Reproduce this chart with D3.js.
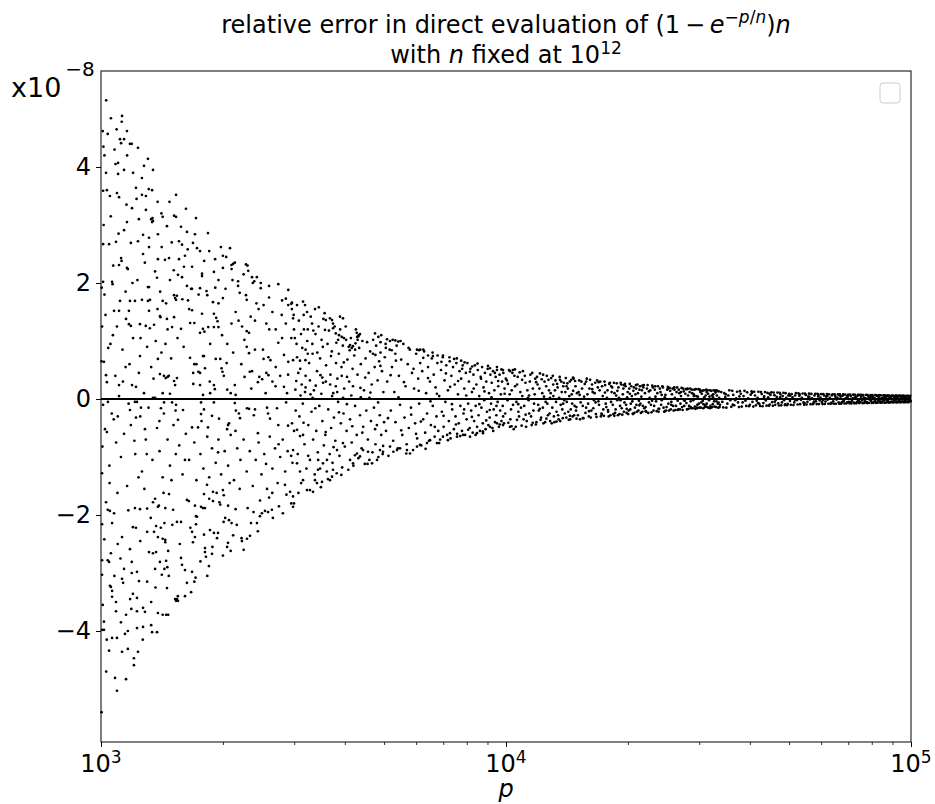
<!DOCTYPE html>
<html>
<head>
<meta charset="utf-8">
<script src="https://cdn.jsdelivr.net/npm/d3@7"></script>
<style>
  body { margin: 0; background: #fff; }
  text { font-family: "DejaVu Sans", sans-serif; fill: #000; }
</style>
</head>
<body>
<div id="chart"></div>
<script>
// Plot size
var svgWidth = 935;
var svgHeight = 804;

var margin = { top: 71, right: 24, bottom: 62, left: 101 };
var plotRight = svgWidth - margin.right;
var plotBottom = svgHeight - margin.bottom;

// axis limits (y values in units of 1e-8)
var xDomain = [1e3, 1e5];
var yDomain = [-5.914, 5.655];
var yTicks = [-4, -2, 0, 2, 4];
var xMajorTicks = [1e3, 1e4, 1e5];
var xTickExp = ["3", "4", "5"];
var xMinorTicks = [2e3, 3e3, 4e3, 5e3, 6e3, 7e3, 8e3, 9e3, 2e4, 3e4, 4e4, 5e4, 6e4, 7e4, 8e4, 9e4];

// points [p, relative error x1e-8]
var ptsNear1e3 = [
  [1030,5.15],[1058,4.84],[1039,4.57],[1093,4.65],[1127,4.88],[1125,4.78],[1159,4.62],[1114,4.48],[1140,4.48],[1121,4.41],
  [1179,4.40],[1191,4.40],[1234,4.33],[1306,4.14],[1277,4.02],[1344,3.95],[1262,3.81],[1140,3.95],[1102,4.07],[1102,3.88],
  [1029,3.90],[1220,3.64],[1337,3.60],[1262,3.52],[1291,3.50],[1012,3.59],[1034,3.60],[1052,3.50],[1095,3.55],[1108,3.48],
  [1532,3.52],[1193,3.29],[1291,3.26],[1330,3.10],[1337,3.05],[1344,3.07],[1340,3.12],[1420,3.14],[1515,3.16],[1532,3.14],
  [1159,3.05],[1140,2.91],[1455,2.98],[1382,2.84],[1270,2.83],[1012,2.67],[1047,2.67],[1089,2.71],[1185,2.69],[1234,2.72],
  [1314,2.78],[1270,2.50],[1314,2.62],[1382,2.41],[1439,2.40],[1472,2.43],[1121,2.43],[1124,2.38],[1108,2.31],[1159,2.26],
  [1165,2.24],[1480,2.05],[1375,2.09],[1306,1.93],[1314,1.93],[1012,2.02],[1065,2.02],[1068,1.98],[1179,1.69],[1114,1.69],
  [1213,1.69],[1262,1.71],[1306,1.69],[1321,1.71],[1420,1.69],[1077,1.52],[1108,1.52],[1172,1.52],[1314,1.52],[1153,1.38],
  [1172,1.29],[1185,1.26],[1248,1.29],[1290,1.26],[1320,1.22],[1352,1.28],[1398,1.43],[1402,1.41],[1455,1.38],[1515,1.41],
  [1448,1.65],[1515,1.79],[1524,1.74],[1532,1.71],[1540,1.78],[1498,1.24],
  [1017,0.64],[1029,0.41],[1034,0.29],[1108,0.24],[1108,0.05],[1193,0.24],[1220,0.21],[1277,0.10],[1344,0.02],[1360,0.02],
  [1248,0.74],[1382,0.69],[1398,0.43],[1430,0.40],[1460,0.38],[1445,0.36],[1470,0.40],[1540,0.36],[1420,0.10],[1480,0.09],
  [1515,0.31],[1524,0.24],[1003,0.65],[1006,1.25],[1020,1.80],[1055,0.95],[1070,1.10],[1085,0.40],[1130,0.85],[1150,0.55],
  [1200,1.05],[1240,0.45],[1300,0.90],[1330,0.55],[1365,1.00],[1410,0.80],[1490,0.70],[1010,4.62],[1020,4.20],[1015,3.00],
  [1080,4.30],[1160,4.20],[1200,3.90],[1240,3.10],[1380,3.40],[1410,3.20],[1495,2.70],[1360,2.20],[1230,2.05],[1150,1.85],
  [1095,1.25],[1400,1.85],[1460,1.20],
  [1006,-1.28],[1006,-2.16],[1006,-2.78],[1006,-3.03],[1006,-3.98],[1003,-5.40],[1017,-3.84],[1017,-3.98],[1023,-0.52],[1034,-0.57],
  [1029,-1.78],[1039,-1.91],[1052,-1.93],[1077,-1.97],[1065,-2.14],[1047,-2.81],[1058,-2.66],[1039,-2.78],[1052,-3.22],[1058,-3.24],
  [1065,-3.31],[1065,-3.41],[1089,-3.50],[1089,-3.66],[1065,-4.12],[1095,-4.12],[1047,-4.34],[1083,-4.81],[1095,-5.03],[1153,-4.83],
  [1165,-4.31],[1206,-4.47],[1206,-4.59],[1234,-4.36],[1127,-4.36],[1165,-4.00],[1153,-3.72],[1127,-2.38],[1127,-3.10],[1134,-3.17],
  [1140,-2.93],[1179,-2.59],[1191,-2.81],[1191,-3.00],[1227,-2.98],[1241,-3.14],[1199,-3.36],[1227,-3.43],[1199,-2.21],[1220,-2.22],
  [1227,-3.66],[1270,-3.60],[1284,-3.67],[1227,-3.95],[1270,-3.93],[1330,-3.90],[1337,-4.02],[1375,-4.02],[1330,-3.50],[1382,-3.69],
  [1420,-3.72],[1448,-3.72],[1465,-3.72],[1455,-3.26],[1524,-3.45],[1532,-3.48],[1548,-3.40],[1314,-2.64],[1344,-2.66],[1368,-2.64],
  [1360,-2.93],[1413,-3.03],[1434,-2.93],[1398,-2.81],[1448,-2.79],[1465,-2.62],[1420,-2.41],[1441,-2.47],[1382,-2.38],[1352,-2.29],
  [1300,-2.29],[1405,-2.22],[1368,-2.19],[1434,-2.14],[1500,-2.17],[1441,-2.43],[1213,-1.88],[1248,-1.90],[1300,-1.89],[1344,-1.78],
  [1360,-1.72],[1382,-1.86],[1390,-1.84],[1441,-1.88],[1507,-1.91],[1472,-1.64],[1540,-2.12],
  [1012,-0.10],[1040,-0.05],[1075,-0.35],[1090,-0.75],[1100,-0.30],[1120,-1.00],[1140,-0.60],[1170,-0.08],[1185,-0.45],[1215,-0.95],
  [1250,-0.30],[1262,-1.25],[1290,-0.70],[1310,-0.15],[1340,-1.05],[1375,-0.50],[1395,-0.90],[1430,-0.25],[1460,-0.70],[1480,-1.15],
  [1510,-0.45],[1530,-0.95],[1050,-1.45],[1160,-1.50],[1280,-1.55],[1420,-1.35],[1100,-2.50],[1250,-2.45],[1010,-3.55],[1030,-4.70],
  [1120,-3.85],[1180,-3.45],[1300,-3.15],[1470,-3.05],
  [1179,-0.19],[1213,-0.05],[1227,-0.05],[1255,-0.15],[1220,-0.32],[1284,-0.52],[1406,-0.16],[1431,-0.06],[1498,-0.06],[1532,-0.10],
  [1549,-0.36]
];

var ptsExtraLow = [
  [1004,1.92],[1008,-0.82],[1014,4.35],[1019,-2.42],[1026,1.45],[1033,-4.15],[1042,0.88],[1049,-1.15],[1057,3.15],[1063,-0.25],
  [1072,2.30],[1079,-3.05],[1086,4.05],[1098,-1.62],[1105,2.85],[1117,-2.75],[1133,0.30],[1146,-4.05],[1156,3.35],[1168,-1.92],
  [1176,0.60],[1188,-3.62],[1196,2.00],[1209,-0.72],[1224,3.45],[1238,-1.35],[1252,1.05],[1268,-4.15],[1283,2.35],[1297,-0.95],
  [1312,3.62],[1327,-2.05],[1348,0.35],[1363,-3.25],[1379,1.55],[1394,-0.38],[1412,2.62],[1427,-1.62],[1443,0.95],[1458,-2.90],
  [1476,3.40],[1493,-1.40],[1512,2.22],[1528,-0.20],[1545,1.05],[1565,-2.50],[1588,1.72],[1612,-1.05],[1637,2.58],[1662,-2.22],
  [1689,0.45],[1712,-3.08],[1742,1.80],[1771,-0.38],[1798,2.38],[1827,-1.48],[1856,0.30],[1884,-2.55],[1915,1.92],[1946,-0.92],
  [1977,2.62],[2008,-2.12],[2043,0.62],[2078,-1.45],[2112,2.05],[2148,-0.55],[2186,1.35],[2224,-2.40],[2262,0.38],[2302,-1.88],
  [2342,1.42],[2384,-0.28],[2426,2.10],[2468,-2.02],[2512,0.85],[2556,-1.12],[2603,1.20],[2648,-1.62],[2697,0.22],[2745,-0.78],
  [2794,1.45],[2846,-1.48],[2897,0.42],[2948,-0.98]
];

var ptsTo3e3 = [
  [1576,2.97],[1630,2.88],[1706,2.84],[1837,2.86],[1621,3.28],[1716,3.12],[1558,2.72],[1585,2.66],[1687,2.69],[2082,2.60],
  [1726,2.60],[1756,2.55],[1612,2.47],[1558,2.41],[1603,2.28],[1678,2.28],[2000,2.47],[2038,2.45],[1913,2.41],[2120,2.33],
  [2100,2.31],[2140,2.35],[2280,2.32],[2300,2.30],[2000,2.26],[2101,2.24],[1900,2.19],[1776,2.16],[1776,2.12],[1585,2.10],
  [1549,2.14],[1630,1.95],[1669,1.90],[1678,1.90],[1756,1.91],[2310,2.21],[2360,2.10],[2390,2.03],[2480,1.91],[2480,2.00],
  [2370,2.00],[2740,1.98],[2900,1.88],[1576,1.21],[1650,1.55],[1678,1.53],[1660,1.31],[1700,1.31],[1776,1.47],[1785,1.21],
  [1822,1.86],[1830,1.79],[1890,1.67],[1900,1.47],[1950,1.65],[2000,1.74],[1840,1.24],[1900,1.24],[1950,1.24],[1925,1.40],
  [1940,1.34],[2180,2.03],[2180,1.95],[2200,1.83],[2280,1.79],[2290,1.71],[2290,1.17],[1800,1.16],[1756,1.14],
  [1659,0.71],[1700,0.60],[1720,0.60],[1690,0.26],[1756,0.24],[1740,0.47],[1756,0.45],[1786,0.74],[1796,0.74],[1806,0.53],
  [1786,0.07],[1860,0.10],[1900,0.24],[1910,0.17],[1920,0.69],[1970,0.69],[1985,0.53],[1995,0.47],[2010,0.40],[2050,0.16],
  [2090,0.10],[2150,0.07],[2140,0.24],[2330,0.47],[2360,0.48],[2460,0.38],[2440,0.29],[2500,0.34],[2560,0.45],[2590,0.41],
  [2320,0.79],[2290,0.90],[2260,1.02],[2320,1.14],[2520,0.69],[2590,0.72],[2620,0.67],[2830,0.21],[2880,0.10],[2740,0.97],
  [2800,1.05],[2830,0.76],[2900,0.64],[2980,0.67],[2800,1.70],[2860,1.73],[2950,1.64],[2960,1.55],[2990,1.45],[2900,1.62],
  [2450,1.55],[2520,1.62],[2600,1.75],[2650,1.50],[2560,1.30],[2700,1.20],[2400,1.35],[2150,1.50],[2100,1.30],[2050,0.95],
  [2220,0.60],[2400,0.85],[2650,0.30],[2700,0.55],[1600,0.90],[1640,1.70],[1860,0.95],[1990,1.10],[2230,1.25],[2600,1.95],
  [2420,1.65],[2250,2.15],[1850,2.55],[1950,2.05],[2030,1.90],[2860,1.30],[2950,1.05],[2770,0.40],[2550,0.10],[2350,0.18],
  [2120,0.80],
  [1612,-2.95],[1678,-2.98],[1576,-2.74],[1585,-2.86],[1540,-3.45],[1549,-3.48],[1612,-3.40],[1669,-3.33],[1630,-3.17],[1576,-2.12],
  [1630,-1.74],[1648,-1.76],[1678,-2.29],[1716,-2.02],[1726,-2.03],[1766,-1.86],[1706,-1.84],[1786,-1.88],[1806,-1.88],[1716,-2.16],
  [1706,-2.38],[1687,-2.47],[1796,-2.34],[1806,-2.57],[1806,-2.64],[1816,-2.72],[1847,-2.88],[1880,-2.67],[1858,-2.26],[1900,-2.31],
  [1945,-2.31],[1934,-2.40],[2026,-2.05],[2070,-2.09],[2101,-2.14],[2164,-2.17],[2090,-2.62],[2059,-2.48],[2048,-2.55],[2228,-2.45],
  [2293,-2.41],[2333,-2.36],[2346,-2.14],[2427,-2.14],[2440,-2.28],[2497,-1.97],[2540,-1.93],[2585,-1.95],[2642,-1.91],[2657,-2.05],
  [2812,-1.97],[1796,-1.64],[1850,-1.72],[1890,-1.76],[1960,-1.78],[1970,-1.82],[2060,-1.84],[2010,-1.66],[1930,-1.62],[1890,-1.60],
  [2000,-1.57],
  [1560,-0.80],[1590,-1.30],[1620,-0.60],[1650,-1.05],[1700,-0.75],[1720,-1.40],[1760,-0.95],[1790,-1.20],[1830,-0.65],[1850,-1.35],
  [1880,-0.85],[1920,-1.10],[1950,-0.70],[1980,-1.30],[2020,-0.90],[2060,-1.15],[2090,-0.62],[2130,-1.40],[2170,-0.85],[2210,-1.05],
  [2250,-0.70],[2290,-1.25],[2330,-0.90],[2370,-1.50],[2410,-1.05],[2450,-0.75],[2490,-1.30],[2530,-0.95],[2570,-1.55],[2610,-0.65],
  [2650,-1.20],[2690,-0.85],[2730,-1.45],[2770,-1.00],[2810,-0.70],[2850,-1.25],[2890,-0.90],[2930,-1.60],[2970,-1.10],[2470,-1.75],
  [2600,-1.70],[2750,-1.85],[2870,-1.65],[2380,-1.95],[2200,-1.55],[2120,-2.35],[2250,-2.60],[1830,-3.05],[1700,-3.15],[1760,-2.80],
  [2000,-2.70],[2150,-1.90],[2950,-1.80],
  [1594,-0.19],[1678,-0.49],[1736,-0.49],[1766,-0.06],[1796,-0.18],[1766,-0.26],[1837,-0.49],[1880,-0.29],[1900,-0.06],[1956,-0.34],
  [2059,-0.45],[2070,-0.42],[2048,-0.52],[2140,-0.07],[2153,-0.20],[2190,-0.25],[2204,-0.33],[2293,-0.16],[2320,-0.17],[2400,-0.18],
  [2440,-0.59],[2570,-0.15],[2585,-0.25],[2614,-0.34],[2720,-0.16],[2740,-0.45],[2865,-0.06],[2896,-0.46],[2997,-0.55]
];

var ptsTo1e4 = [
  [2962,1.66],[3048,1.62],[3154,1.68],[3190,1.62],[3226,1.50],[2980,1.39],[2996,1.20],[3170,1.20],[3240,1.20],[3320,1.30],
  [3376,1.55],[3450,1.58],[3590,1.36],[3676,1.39],[3719,1.36],[3740,1.30],[3891,1.42],[3958,1.39],[3573,1.19],[3740,1.22],
  [3800,1.13],[3870,1.10],[3930,1.07],[3980,1.05],[4030,1.02],[3850,1.02],[4280,1.14],[4330,1.10],[4360,1.12],[4320,1.08],
  [4290,1.07],[4120,0.93],[4190,0.91],[4240,0.85],[4160,0.88],[4090,0.90],[4250,0.96],[4749,1.13],[4840,1.07],[4920,1.10],
  [5083,1.03],[5171,1.00],[5250,1.02],[5330,1.01],[5420,0.99],[5490,1.00],[4760,0.76],[4900,0.80],[5050,0.88],[5220,0.84],
  [5330,0.78],[6029,0.85],[6100,0.84],[6140,0.85],[6250,0.85],[6420,0.75],[6600,0.74],[6780,0.75],[6990,0.75],[7250,0.72],
  [7560,0.70],[7750,0.66],[7900,0.63],[8250,0.56],[9130,0.53],[9500,0.55],[9830,0.50],[10230,0.48],[10400,0.50],
  [3048,0.72],[3100,0.66],[3200,0.85],[3240,0.78],[3330,0.78],[3420,0.80],[3530,0.90],[3070,0.45],[3130,0.25],[3200,0.20],
  [3280,0.32],[3390,0.23],[3520,0.37],[3590,0.30],[3680,0.25],[3800,0.22],[3930,0.40],[4050,0.38],[4190,0.22],[3020,0.16],
  [3110,0.06],[3190,0.12],[3330,0.02],[3500,0.09],[3720,0.05],[3830,0.12],[3960,0.02],[4150,0.06],[4380,0.03],[4600,0.02],
  [2962,-0.42],[3048,-0.53],[3100,-0.64],[3154,-0.62],[2980,-0.88],[3048,-1.11],[3100,-1.25],[3154,-1.40],[3226,-1.57],[3281,-1.57],
  [3338,-1.60],[3376,-1.40],[3434,-1.22],[3474,-1.20],[3533,-1.11],[3614,-1.05],[3676,-1.40],[3719,-1.34],[3740,-1.22],[3513,-1.43],
  [3414,-1.45],[2980,-1.68],[2980,-1.86],[2996,-1.80],[3826,-0.88],[3958,-0.76],[4120,-1.05],[4191,-1.11],[4286,-0.94],[4360,-0.99],
  [4436,-0.88],[4564,-0.91],[4669,-1.11],[4804,-1.05],[4885,-0.88],[4969,-0.91],[5171,-0.82],[5381,-0.88],[5473,-0.85],[5694,-0.88],
  [5794,-0.94],[6029,-0.82],[6132,-0.79],[6382,-0.76],[6492,-0.71],[6755,-0.76],[6989,-0.65],[7273,-0.59],[7568,-0.65],[7830,-0.62],
  [8149,-0.65],[8479,-0.59],[8775,-0.59],[9131,-0.48],[9502,-0.42],[9831,-0.45],[10230,-0.48],[10645,-0.36],
  [3010,1.05],[3025,-0.20],[3040,0.95],[3060,-0.95],[3080,1.35],[3090,-0.30],[3105,0.52],[3120,-1.45],[3140,0.88],[3150,-0.08],
  [3165,1.45],[3180,-0.78],[3200,0.40],[3215,-1.20],[3230,1.00],[3250,-0.45],[3265,0.62],[3280,-1.05],[3295,1.42],[3310,-0.22],
  [3325,0.95],[3340,-0.70],[3355,0.15],[3370,-1.30],[3385,1.12],[3400,-0.55],[3415,0.48],[3430,-0.92],[3445,1.25],[3460,-0.12],
  [3475,0.70],[3490,-1.52],[3505,1.02],[3520,-0.38],[3535,0.28],[3550,-0.80],[3565,1.48],[3580,-0.62],[3595,0.58],[3610,-1.25],
  [3625,0.95],[3640,-0.18],[3655,1.18],[3670,-0.95],[3685,0.42],[3700,-0.50],[3715,0.82],[3730,-1.10],[3745,0.10],[3760,-0.32],
  [3775,1.25],[3790,-0.72],[3805,0.62],[3820,-1.28],[3835,0.35],[3850,-0.05],[3865,0.78],[3880,-0.98],[3895,1.20],[3910,-0.42],
  [3925,0.55],[3940,-1.18],[3955,0.92],[3970,-0.25],[3985,0.18],[4000,-0.82],[4020,1.25],[4040,-0.55],[4060,0.68],[4080,-1.22],
  [4100,0.30],[4120,-0.35],[4140,1.05],[4160,-0.75],[4180,0.52],[4200,-1.15],[4220,0.75],[4240,-0.12],[4260,1.20],[4280,-0.62],
  [4300,0.42],[4320,-1.02],[4340,0.88],[4360,-0.28],[4380,0.60],[4400,-0.85],[4420,1.00],[4440,-0.48],[4460,0.15],[4480,-1.12],
  [4500,0.70],[4520,-0.20],[4540,0.98],[4560,-0.70],[4580,0.45],[4600,-1.05],[4620,0.82],[4640,-0.38],[4660,0.25],[4680,-0.92],
  [4700,1.02],[4720,-0.15],[4740,0.55],[4760,-0.78],[4780,0.92],[4800,-0.45],[4820,0.32],[4840,-1.00],[4860,0.65],[4880,-0.28],
  [4900,0.98],[4920,-0.62],[4940,0.48],[4960,-0.95],[4980,0.12],[5000,-0.40],
  [5020,0.72],[5055,-0.55],[5090,0.30],[5125,-0.98],[5160,0.85],[5195,-0.20],[5230,0.55],[5265,-0.72],[5300,0.12],[5335,-0.40],
  [5370,0.92],[5405,-0.85],[5440,0.40],[5475,-0.10],[5510,0.68],[5545,-0.62],[5580,0.95],[5615,-0.32],[5650,0.22],[5685,-0.78],
  [5720,0.60],[5755,-0.50],[5790,0.85],[5825,-0.15],[5860,0.45],[5895,-0.88],[5930,0.18],[5965,-0.42],[6000,0.78],[6035,-0.68],
  [6070,0.35],[6105,-0.08],[6140,0.62],[6175,-0.80],[6210,0.48],[6245,-0.35],[6280,0.82],[6315,-0.58],[6350,0.10],[6385,-0.25],
  [6420,0.55],[6455,-0.72],[6490,0.30],[6525,-0.45],[6560,0.70],[6595,-0.12],[6630,0.42],[6665,-0.65],[6700,0.20],[6735,-0.30],
  [6770,0.62],[6805,-0.55],[6840,0.05],[6875,-0.70],[6910,0.50],[6945,-0.22],[6980,0.72],[7015,-0.48],[7050,0.32],[7085,-0.05],
  [7120,0.58],[7155,-0.62],[7190,0.15],[7225,-0.38],[7260,0.65],[7295,-0.68],[7330,0.40],[7365,-0.18],[7400,0.55],[7435,-0.52],
  [7470,0.25],[7505,-0.30],[7540,0.62],[7575,-0.60],[7610,0.08],[7645,-0.42],[7680,0.48],[7715,-0.12],[7750,0.35],[7785,-0.55],
  [7820,0.58],[7855,-0.25],[7890,0.18],[7925,-0.62],[7960,0.45],[7995,-0.35],[8030,0.62],[8065,-0.08],[8100,0.30],[8135,-0.50],
  [8170,0.52],[8205,-0.20],[8240,0.12],[8275,-0.58],[8310,0.42],[8345,-0.38],[8380,0.58],[8415,-0.12],[8450,0.25],[8485,-0.48],
  [8520,0.50],[8555,-0.28],[8590,0.05],[8625,-0.55],[8660,0.38],[8695,-0.15],[8730,0.55],[8765,-0.42],[8800,0.20],[8835,-0.02],
  [8870,0.45],[8905,-0.52],[8940,0.30],[8975,-0.22],[9010,0.52],[9045,-0.45],[9080,0.10],[9115,-0.32],[9150,0.42],[9185,-0.08],
  [9220,0.28],[9255,-0.50],[9290,0.48],[9325,-0.18],[9360,0.15],[9395,-0.40],[9430,0.38],[9465,-0.28],[9500,0.50],[9535,-0.05],
  [9570,0.22],[9605,-0.48],[9640,0.42],[9675,-0.20],[9710,0.08],[9745,-0.38],[9780,0.30],[9815,-0.12],[9850,0.45],[9885,-0.42],
  [9920,0.18],[9955,-0.25],[9990,0.35]
];

var ptsExtraMid = [
  [3035,0.31],[3072,-1.62],[3118,1.12],[3163,-0.41],[3197,0.67],[3248,-0.98],[3291,0.08],[3344,1.18],[3382,-0.16],[3437,-1.05],
  [3482,0.41],[3541,1.38],[3588,-0.57],[3632,-1.38],[3697,0.74],[3752,-0.83],[3811,0.97],[3868,-0.23],[3921,-1.31],[3977,0.63],
  [4047,-0.09],[4112,0.84],[4173,-0.47],[4236,-0.97],[4302,1.02],[4371,0.19],[4417,-0.58],[4493,0.37],[4551,-1.12],[4627,0.11],
  [4693,0.78],[4751,-0.52],[4833,-0.06],[4897,0.57],[4972,-0.81],[5043,0.95],[5112,-0.33],[5189,0.41],[5271,-0.91],[5348,0.66],
  [5427,0.03],[5512,-0.54],[5597,0.29],[5672,-0.94],[5748,0.88],[5833,-0.27],[5912,0.52],[5997,-0.60],[6088,0.14],[6163,-0.39],
  [6247,0.71],[6331,-0.86],[6418,0.36],[6509,-0.04],[6588,0.80],[6671,-0.48],[6752,0.09],[6838,-0.76],[6927,0.64],[7013,-0.29],
  [7107,0.44],[7188,-0.71],[7279,0.21],[7352,-0.09],[7446,0.69],[7523,-0.44],[7618,0.31],[7707,-0.64],[7793,0.52],[7884,-0.18],
  [7977,0.06],[8066,-0.53],[8147,0.47],[8238,-0.31],[8322,0.18],[8411,-0.62],[8506,0.61],[8593,-0.09],[8677,0.35],[8768,-0.56],
  [8849,0.13],[8937,-0.37],[9028,0.57],[9118,-0.19],[9207,0.03],[9298,-0.55],[9386,0.45],[9471,-0.12],[9563,0.31],[9651,-0.44],
  [9744,0.51],[9838,-0.30],[9925,0.09]
];

var ptsTo3e4 = [
  [10050,0.32],[10130,-0.41],[10210,0.08],[10290,-0.18],[10370,0.45],[10450,-0.52],[10530,0.22],[10610,-0.05],[10690,0.38],[10770,-0.30],
  [10850,0.12],[10930,-0.46],[11010,0.48],[11090,-0.12],[11170,0.28],[11250,-0.38],[11330,0.02],[11410,-0.25],[11490,0.42],[11570,-0.45],
  [11650,0.18],[11730,-0.08],[11810,0.35],[11890,-0.40],[11970,0.25],[12050,-0.20],[12130,0.44],[12210,-0.32],[12290,0.10],[12370,-0.42],
  [12450,0.30],[12530,-0.05],[12610,0.40],[12690,-0.28],[12770,0.15],[12850,-0.38],[12930,0.36],[13010,-0.15],[13090,0.05],[13170,-0.40],
  [13250,0.32],[13330,-0.22],[13410,0.20],[13490,-0.35],[13570,0.38],[13650,-0.10],[13730,0.12],[13810,-0.33],[13890,0.28],[13970,-0.25],
  [14050,0.36],[14130,-0.05],[14210,0.18],[14290,-0.36],[14370,0.30],[14450,-0.18],[14530,0.08],[14610,-0.30],[14690,0.35],[14770,-0.12],
  [14850,0.22],[14930,-0.34],
  [10090,-0.02],[10170,0.50],[10250,-0.35],[10330,0.15],[10410,-0.10],[10490,0.40],[10570,-0.48],[10650,0.25],[10730,-0.22],[10810,0.46],
  [10890,-0.15],[10970,0.05],[11050,-0.35],[11130,0.40],[11210,-0.48],[11290,0.15],[11370,-0.02],[11450,0.30],[11530,-0.30],[11610,0.45],
  [11690,-0.20],[11770,0.08],[11850,-0.44],[11930,0.38],[12010,-0.10],[12090,0.18],[12170,-0.36],[12250,0.34],[12330,-0.15],[12410,0.04],
  [12490,-0.40],[12570,0.22],[12650,-0.08],[12730,0.33],[12810,-0.25],[12890,0.10],[12970,-0.42],[13050,0.40],[13130,-0.30],[13210,0.15],
  [13290,-0.05],[13370,0.26],[13450,-0.28],[13530,0.02],[13610,-0.38],[13690,0.30],[13770,-0.18],[13850,0.22],[13930,-0.02],[14010,0.12],
  [14090,-0.32],[14170,0.27],[14250,-0.22],[14330,0.05],[14410,-0.35],[14490,0.33],[14570,-0.08],[14650,0.14],[14730,-0.28],[14810,0.31],
  [14890,-0.20],[14970,0.10],
  [15050,-0.28],[15170,0.32],[15290,-0.06],[15410,0.18],[15530,-0.33],[15650,0.26],[15770,-0.15],[15890,0.08],[16010,-0.30],[16130,0.33],
  [16250,-0.20],[16370,0.12],[16490,-0.02],[16610,0.28],[16730,-0.31],[16850,0.20],[16970,-0.10],[17090,0.30],[17210,-0.25],[17330,0.05],
  [17450,-0.29],[17570,0.24],[17690,-0.14],[17810,0.15],[17930,-0.30],[18050,0.28],[18170,-0.05],[18290,0.20],[18410,-0.26],[18530,0.10],
  [18650,-0.18],[18770,0.27],[18890,-0.28],[19010,0.02],[19130,-0.12],[19250,0.25],[19370,-0.27],[19490,0.18],[19610,-0.06],[19730,0.22],
  [19850,-0.24],[19970,0.12],[20090,-0.20],[20210,0.26],[20330,-0.08],[20450,0.05],[20570,-0.25],[20690,0.20],[20810,-0.15],[20930,0.24],
  [21050,-0.22],[21170,0.10],[21290,-0.03],[21410,0.22],[21530,-0.24],[21650,0.15],[21770,-0.12],[21890,0.24],
  [15110,0.12],[15230,-0.35],[15350,0.30],[15470,-0.12],[15590,0.04],[15710,-0.24],[15830,0.35],[15950,-0.08],[16070,0.18],[16190,-0.32],
  [16310,0.25],[16430,-0.16],[16550,0.10],[16670,-0.26],[16790,0.32],[16910,-0.04],[17030,0.15],[17150,-0.30],[17270,0.22],[17390,-0.18],
  [17510,0.30],[17630,-0.08],[17750,0.02],[17870,-0.22],[17990,0.26],[18110,-0.28],[18230,0.12],[18350,-0.10],[18470,0.28],[18590,-0.24],
  [18710,0.06],[18830,-0.02],[18950,0.20],[19070,-0.26],[19190,0.28],[19310,-0.16],[19430,0.08],[19550,-0.22],[19670,0.26],[19790,-0.10],
  [19910,0.03],[20030,-0.26],[20150,0.18],[20270,-0.18],[20390,0.22],[20510,-0.04],[20630,0.14],[20750,-0.24],[20870,0.08],[20990,-0.10],
  [21110,0.25],[21230,-0.20],[21350,0.16],[21470,-0.08],[21590,0.04],[21710,-0.22],[21830,0.20],[21950,-0.16],
  [22030,0.10],[22200,-0.22],[22370,0.24],[22540,-0.06],[22710,0.15],[22880,-0.23],[23050,0.20],[23220,-0.12],[23390,0.04],[23560,-0.21],
  [23730,0.22],[23900,-0.17],[24070,0.12],[24240,-0.02],[24410,0.20],[24580,-0.22],[24750,0.07],[24920,-0.14],[25090,0.21],[25260,-0.20],
  [25430,0.14],[25600,-0.05],[25770,0.18],[25940,-0.20],[26110,0.02],[26280,-0.12],[26450,0.20],[26620,-0.18],[26790,0.10],[26960,-0.08],
  [27130,0.19],[27300,-0.19],[27470,0.13],[27640,-0.03],[27810,0.17],[27980,-0.18],[28150,0.06],[28320,-0.12],[28490,0.18],[28660,-0.16],
  [28830,0.10],[29000,-0.02],[29170,0.16],[29340,-0.17],[29510,0.05],[29680,-0.10],[29850,0.17],[30020,-0.15],[30190,0.12],[30360,-0.06],
  [30530,0.14],[30700,-0.16],[30870,0.03],[31040,-0.11],[31210,0.16],[31380,-0.14],[31550,0.09],[31720,-0.02],[31890,0.15],[32060,-0.15],
  [32230,0.06],[32400,-0.09],[32570,0.15],[32740,-0.13],[32910,0.11],[33080,-0.04],[33250,0.14],[33420,-0.15],[33590,0.02],[33760,-0.10],
  [22115,-0.14],[22285,0.18],[22455,-0.24],[22625,0.02],[22795,-0.10],[22965,0.23],[23135,-0.20],[23305,0.16],[23475,-0.04],[23645,0.10],
  [23815,-0.22],[23985,0.18],[24155,-0.10],[24325,0.22],[24495,-0.15],[24665,0.03],[24835,-0.20],[25005,0.16],[25175,-0.08],[25345,0.19],
  [25515,-0.18],[25685,0.08],[25855,-0.12],[26025,0.20],[26195,-0.19],[26365,0.12],[26535,-0.03],[26705,0.16],[26875,-0.18],[27045,0.05],
  [27215,-0.14],[27385,0.18],[27555,-0.12],[27725,0.09],[27895,-0.07],[28065,0.18],[28235,-0.17],[28405,0.12],[28575,-0.04],[28745,0.16],
  [28915,-0.16],[29085,0.08],[29255,-0.13],[29425,0.17],[29595,-0.15],[29765,0.04],[29935,-0.08],[30105,0.16],[30275,-0.15],[30445,0.09],
  [30615,-0.03],[30785,0.15],[30955,-0.14],[31125,0.06],[31295,-0.08],[31465,0.15],[31635,-0.15],[31805,0.04],[31975,-0.12],[32145,0.14],
  [32315,-0.14],[32485,0.08],[32655,-0.04],[32825,0.14],[32995,-0.14],[33165,0.06],[33335,-0.08],[33505,0.13],[33675,-0.14]
];

var ptsExtraHigh = [
  [10110,0.26],[10320,-0.47],[10520,0.51],[10720,-0.09],[10960,0.33],[11180,-0.27],[11400,0.06],[11640,-0.41],[11870,0.29],[12120,-0.17],
  [12350,0.42],[12580,-0.34],[12840,0.02],[13080,0.25],[13330,-0.39],[13590,0.33],[13840,-0.08],[14110,0.22],[14380,-0.29],[14640,0.37],
  [14920,-0.14],[15200,0.07],[15480,-0.33],[15770,0.30],[16040,-0.21],[16330,0.17],[16640,-0.06],[16940,0.29],[17240,-0.27],[17550,0.11],
  [17860,-0.19],[18190,0.22],[18510,-0.29],[18840,0.14],[19180,-0.02],[19520,0.24],[19860,-0.17],[20220,0.09],[20580,-0.26],[20960,0.18],
  [21330,-0.11],[21720,0.23],[22120,-0.21],[22530,0.13],[22940,-0.03],[23360,0.22],[23790,-0.17],[24230,0.07],[24680,-0.21],[25130,0.18],
  [25590,-0.10],[26060,0.16],[26540,-0.19],[27030,0.12],[27530,-0.02],[28040,0.17],[28560,-0.14],[29090,0.05],[29630,-0.16],[30170,0.15],
  [30730,-0.09],[31290,0.12],[31870,-0.16],[32450,0.03],[33040,0.15]
];

var ptsTo1e5 = [
  [34000,0.120],[34400,-0.145],[34800,0.035],[35200,-0.080],[35600,0.150],[36000,-0.135],[36400,0.070],[36800,-0.020],[37200,0.125],[37600,-0.140],
  [38000,0.090],[38400,-0.060],[38800,0.140],[39200,-0.120],[39600,0.010],[40000,-0.100],[40400,0.130],[40800,-0.130],[41200,0.060],[41600,-0.030],
  [42000,0.125],[42400,-0.120],[42800,0.085],[43200,-0.070],[43600,0.120],[44000,-0.115],[44400,0.030],[44800,-0.095],[45200,0.115],[45600,-0.118],
  [46000,0.065],[46400,-0.015],[46800,0.110],[47200,-0.112],[47600,0.080],[48000,-0.060],[48400,0.108],[48800,-0.105],[49200,0.020],[49600,-0.085],
  [34200,-0.050],[34600,0.100],[35000,-0.150],[35400,0.060],[35800,-0.020],[36200,0.140],[36600,-0.110],[37000,0.010],[37400,-0.060],[37800,0.135],
  [38200,-0.130],[38600,0.050],[39000,-0.030],[39400,0.115],[39800,-0.125],[40200,0.075],[40600,-0.050],[41000,0.125],[41400,-0.110],[41800,0.020],
  [42200,-0.080],[42600,0.120],[43000,-0.125],[43400,0.045],[43800,-0.025],[44200,0.105],[44600,-0.115],[45000,0.070],[45400,-0.055],[45800,0.112],
  [46200,-0.100],[46600,0.035],[47000,-0.075],[47400,0.108],[47800,-0.110],[48200,0.050],[48600,-0.020],[49000,0.100],[49400,-0.108],[49800,0.060],
  [50000,0.090],[50500,-0.100],[51000,0.030],[51500,-0.060],[52000,0.100],[52500,-0.095],[53000,0.055],[53500,-0.015],[54000,0.095],[54500,-0.098],
  [55000,0.070],[55500,-0.050],[56000,0.092],[56500,-0.090],[57000,0.010],[57500,-0.070],[58000,0.090],[58500,-0.088],[59000,0.045],[59500,-0.025],
  [60000,0.085],[60500,-0.088],[61000,0.060],[61500,-0.045],[62000,0.085],[62500,-0.082],[63000,0.020],[63500,-0.065],[64000,0.082],[64500,-0.082],
  [65000,0.050],[65500,-0.010],[66000,0.080],[66500,-0.080],[67000,0.040],[67500,-0.055],[68000,0.078],[68500,-0.078],[69000,0.015],[69500,-0.060],
  [70000,0.075],[70500,-0.075],[71000,0.050],[71500,-0.030],[72000,0.074],[72500,-0.074],[73000,0.030],[73500,-0.050],[74000,0.072],[74500,-0.070],
  [50250,-0.035],[50750,0.085],[51250,-0.105],[51750,0.060],[52250,-0.020],[52750,0.098],[53250,-0.090],[53750,0.020],[54250,-0.060],[54750,0.092],
  [55250,-0.095],[55750,0.040],[56250,-0.010],[56750,0.088],[57250,-0.090],[57750,0.060],[58250,-0.040],[58750,0.088],[59250,-0.088],[59750,0.025],
  [60250,-0.060],[60750,0.085],[61250,-0.086],[61750,0.040],[62250,-0.015],[62750,0.082],[63250,-0.084],[63750,0.060],[64250,-0.040],[64750,0.080],
  [65250,-0.082],[65750,0.025],[66250,-0.060],[66750,0.078],[67250,-0.080],[67750,0.055],[68250,-0.025],[68750,0.076],[69250,-0.078],[69750,0.035],
  [70250,-0.050],[70750,0.075],[71250,-0.076],[71750,0.010],[72250,-0.062],[72750,0.073],[73250,-0.074],[73750,0.050],[74250,-0.020],[74750,0.072],
  [75000,-0.055],[75500,0.070],[76000,-0.072],[76500,0.025],[77000,-0.040],[77500,0.070],[78000,-0.070],[78500,0.045],[79000,-0.010],[79500,0.068],
  [80000,-0.068],[80500,0.030],[81000,-0.050],[81500,0.066],[82000,-0.066],[82500,0.050],[83000,-0.025],[83500,0.065],[84000,-0.065],[84500,0.010],
  [85000,-0.045],[85500,0.063],[86000,-0.063],[86500,0.040],[87000,-0.015],[87500,0.062],[88000,-0.062],[88500,0.025],[89000,-0.050],[89500,0.060],
  [90000,-0.060],[90500,0.045],[91000,-0.030],[91500,0.059],[92000,-0.059],[92500,0.015],[93000,-0.040],[93500,0.058],[94000,-0.058],[94500,0.035],
  [95000,-0.010],[95500,0.057],[96000,-0.057],[96500,0.030],[97000,-0.045],[97500,0.055],[98000,-0.055],[98500,0.040],[99000,-0.020],[99500,0.055],
  [75250,0.040],[75750,-0.020],[76250,0.068],[76750,-0.068],[77250,0.010],[77750,-0.055],[78250,0.068],[78750,-0.066],[79250,0.035],[79750,-0.035],
  [80250,0.066],[80750,-0.066],[81250,0.015],[81750,-0.055],[82250,0.064],[82750,-0.064],[83250,0.035],[83750,-0.040],[84250,0.064],[84750,-0.062],
  [85250,0.025],[85750,-0.020],[86250,0.062],[86750,-0.062],[87250,0.045],[87750,-0.035],[88250,0.060],[88750,-0.060],[89250,0.010],[89750,-0.045],
  [90250,0.060],[90750,-0.058],[91250,0.030],[91750,-0.015],[92250,0.058],[92750,-0.058],[93250,0.045],[93750,-0.030],[94250,0.057],[94750,-0.056],
  [95250,0.020],[95750,-0.045],[96250,0.056],[96750,-0.056],[97250,0.040],[97750,-0.010],[98250,0.055],[98750,-0.054],[99250,0.030],[99750,-0.040]
];

var ptsExtraTail = [
  [33500,-0.062],[34900,0.082],[36300,-0.098],[37700,0.044],[39100,-0.008],[40500,0.104],[41900,-0.072],[43300,0.012],[44700,0.092],[46100,-0.046],
  [47500,0.028],[48900,-0.094],[50300,0.058],[51700,-0.012],[53100,0.078],[54600,-0.070],[56100,0.036],[57600,-0.046],[59100,0.074],[60600,-0.020],
  [62100,0.052],[63600,-0.074],[65100,0.012],[66600,0.066],[68100,-0.040],[69600,0.054],[71100,-0.060],[72600,0.022],[74100,-0.034],[75600,0.058],
  [77100,-0.050],[78600,0.012],[80100,0.046],[81600,-0.030],[83100,0.056],[84600,-0.048],[86100,0.018],[87600,-0.052],[89100,0.036],[90600,-0.008],
  [92100,0.050],[93600,-0.048],[95100,0.026],[96600,-0.034],[98100,0.048],[99600,-0.026]
];

var allPts = [].concat(ptsNear1e3, ptsExtraLow, ptsTo3e3, ptsTo1e4, ptsExtraMid,
  ptsTo3e4, ptsExtraHigh, ptsTo1e5, ptsExtraTail);

var svg = d3.select("#chart")
  .append("svg")
  .attr("width", svgWidth)
  .attr("height", svgHeight)
  .style("background", "#fff");

var xScale = d3.scaleLog()
  .domain(xDomain)
  .range([margin.left, plotRight]);

var yScale = d3.scaleLinear()
  .domain(yDomain)
  .range([plotBottom, margin.top]);

// scatter points
svg.append("g")
  .selectAll("circle")
  .data(allPts)
  .enter()
  .append("circle")
  .attr("cx", d => xScale(d[0]))
  .attr("cy", d => yScale(d[1]))
  .attr("r", 1.35)
  .attr("fill", "#000");

// zero line
svg.append("line")
  .attr("x1", xScale(xDomain[0]))
  .attr("x2", xScale(xDomain[1]))
  .attr("y1", yScale(0))
  .attr("y2", yScale(0))
  .attr("stroke", "#000")
  .attr("stroke-width", 2);

// y axis
var leftAxis = d3.axisLeft(yScale)
  .tickValues(yTicks)
  .tickSize(5)
  .tickPadding(5)
  .tickFormat(d => d < 0 ? "\u2212" + Math.abs(d) : String(d));

var yAxis = svg.append("g")
  .attr("transform", `translate(${margin.left}, 0)`)
  .call(leftAxis);
yAxis.select(".domain").remove();
yAxis.selectAll("text")
  .style("font-family", "DejaVu Sans")
  .style("font-size", "24px")
  .attr("fill", "#000");
yAxis.selectAll("line").attr("stroke", "#000").attr("stroke-width", 1);

// x axis, major and minor ticks
var bottomAxis = d3.axisBottom(xScale)
  .tickValues(xMajorTicks)
  .tickSize(5)
  .tickFormat("");
var xAxis = svg.append("g")
  .attr("transform", `translate(0, ${plotBottom})`)
  .call(bottomAxis);
xAxis.select(".domain").remove();
xAxis.selectAll("line").attr("stroke", "#000").attr("stroke-width", 1);

var minorAxis = d3.axisBottom(xScale)
  .tickValues(xMinorTicks)
  .tickSize(3)
  .tickFormat("");
var xMinor = svg.append("g")
  .attr("transform", `translate(0, ${plotBottom})`)
  .call(minorAxis);
xMinor.select(".domain").remove();
xMinor.selectAll("line").attr("stroke", "#000").attr("stroke-width", 0.8);

// x tick labels as 10^k
var xLabels = svg.append("g");
xMajorTicks.forEach(function (t, i) {
  var lbl = xLabels.append("text")
    .attr("x", xScale(t))
    .attr("y", plotBottom + 30)
    .attr("text-anchor", "middle")
    .style("font-size", "24px");
  lbl.append("tspan").text("10");
  lbl.append("tspan").attr("dy", -9).style("font-size", "17px").text(xTickExp[i]);
});

// frame
svg.append("rect")
  .attr("x", margin.left)
  .attr("y", margin.top)
  .attr("width", plotRight - margin.left)
  .attr("height", plotBottom - margin.top)
  .attr("fill", "none")
  .attr("stroke", "#000")
  .attr("stroke-width", 1);

// empty legend
svg.append("rect")
  .attr("x", plotRight - 31)
  .attr("y", margin.top + 12)
  .attr("width", 20)
  .attr("height", 20)
  .attr("rx", 3)
  .attr("fill", "#fff")
  .attr("stroke", "#cccccc")
  .attr("stroke-width", 1);

// title
var cx = (margin.left + plotRight) / 2;
var t1 = svg.append("text")
  .attr("x", cx)
  .attr("y", 33)
  .attr("text-anchor", "middle")
  .style("font-size", "24px");
t1.append("tspan").text("relative error in direct evaluation of (1\u2009\u2212\u2009");
t1.append("tspan").style("font-style", "italic").text("e");
var sup = t1.append("tspan").attr("dy", -10).style("font-size", "17px");
sup.append("tspan").text("\u2212");
sup.append("tspan").style("font-style", "italic").text("p");
sup.append("tspan").text("/");
sup.append("tspan").style("font-style", "italic").text("n");
t1.append("tspan").attr("dy", 10).text(")");
t1.append("tspan").style("font-style", "italic").text("n");

var t2 = svg.append("text")
  .attr("x", cx)
  .attr("y", 63)
  .attr("text-anchor", "middle")
  .style("font-size", "24px");
t2.append("tspan").text("with ");
t2.append("tspan").style("font-style", "italic").text("n");
t2.append("tspan").text(" fixed at 10");
t2.append("tspan").attr("dy", -9).style("font-size", "17px").text("12");

// x label
svg.append("text")
  .attr("x", cx)
  .attr("y", 797)
  .attr("text-anchor", "middle")
  .style("font-size", "24px")
  .style("font-style", "italic")
  .text("p");

// scale factor label
var sf = svg.append("text")
  .attr("x", 11)
  .attr("y", 97)
  .style("font-size", "27px");
sf.append("tspan").text("x10");
sf.append("tspan").attr("dx", 4).attr("dy", -21).style("font-size", "20px").text("\u22128");
</script>
</body>
</html>
